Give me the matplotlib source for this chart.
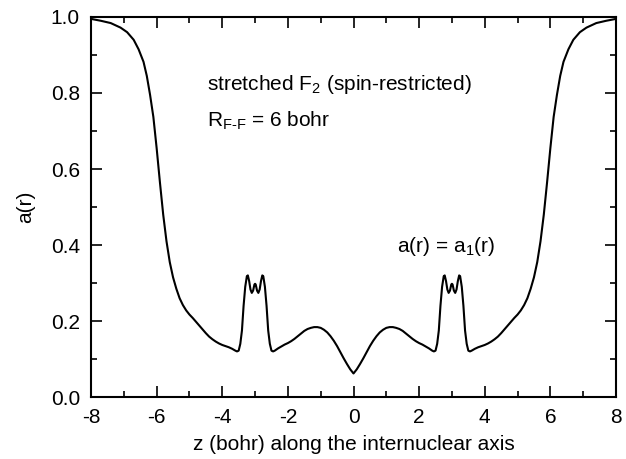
import matplotlib
matplotlib.use("Agg")
import matplotlib.pyplot as plt
from matplotlib.ticker import MultipleLocator

plt.rcParams['font.family'] = ['Liberation Sans', 'DejaVu Sans']
plt.rcParams['mathtext.fontset'] = 'custom'
plt.rcParams['mathtext.rm'] = 'Liberation Sans'
plt.rcParams['mathtext.it'] = 'Liberation Sans:italic'
plt.rcParams['mathtext.default'] = 'regular'

# a(r), left half then right half
z_left = [-8.0, -7.7, -7.4, -7.1, -6.9, -6.7, -6.55, -6.4, -6.3, -6.2, -6.1, -6.0,
          -5.9, -5.8, -5.7, -5.6, -5.5, -5.4, -5.3, -5.2, -5.1, -5.0, -4.9, -4.8,
          -4.7, -4.6, -4.5, -4.4, -4.3, -4.2, -4.1, -4.0, -3.9, -3.8, -3.7, -3.6,
          -3.55, -3.5, -3.45, -3.4, -3.35, -3.3, -3.25, -3.22, -3.18, -3.14, -3.1,
          -3.06, -3.02, -3.0, -2.98, -2.94, -2.9, -2.86, -2.82, -2.78, -2.75, -2.7,
          -2.65, -2.6, -2.55, -2.5, -2.45, -2.4, -2.3, -2.2, -2.1, -2.0, -1.9, -1.8,
          -1.7, -1.6, -1.5, -1.4, -1.3, -1.2, -1.1, -1.0, -0.9, -0.8, -0.7, -0.6,
          -0.5, -0.4, -0.3, -0.2, -0.1, 0.0]
a_left = [0.995, 0.990, 0.984, 0.972, 0.960, 0.940, 0.915, 0.882, 0.845, 0.795, 0.737, 0.655,
          0.565, 0.480, 0.410, 0.355, 0.315, 0.285, 0.260, 0.242, 0.228, 0.217, 0.208, 0.198,
          0.188, 0.178, 0.168, 0.159, 0.152, 0.146, 0.141, 0.137, 0.134, 0.131, 0.127, 0.122,
          0.120, 0.122, 0.140, 0.175, 0.240, 0.290, 0.318, 0.320, 0.305, 0.283, 0.274,
          0.280, 0.296, 0.298, 0.296, 0.280, 0.274, 0.283, 0.305, 0.320, 0.318, 0.290,
          0.240, 0.175, 0.140, 0.122, 0.120, 0.122, 0.128, 0.133, 0.138, 0.142, 0.147, 0.153,
          0.160, 0.167, 0.174, 0.179, 0.182, 0.184, 0.184, 0.182, 0.177, 0.170, 0.160, 0.148,
          0.134, 0.118, 0.102, 0.087, 0.073, 0.062]

z_right = [0.1, 0.2, 0.3, 0.4, 0.5, 0.6, 0.7, 0.8, 0.9, 1.0, 1.1, 1.2, 1.3, 1.4, 1.5,
           1.6, 1.7, 1.8, 1.9, 2.0, 2.1, 2.2, 2.3, 2.4, 2.45, 2.5, 2.55, 2.6, 2.65, 2.7,
           2.75, 2.78, 2.82, 2.86, 2.9, 2.94, 2.98, 3.0, 3.02, 3.06, 3.1, 3.14, 3.18, 3.22,
           3.25, 3.3, 3.35, 3.4, 3.45, 3.5, 3.55, 3.6, 3.7, 3.8, 3.9, 4.0, 4.1, 4.2, 4.3,
           4.4, 4.5, 4.6, 4.7, 4.8, 4.9, 5.0, 5.1, 5.2, 5.3, 5.4, 5.5, 5.6, 5.7, 5.8, 5.9,
           6.0, 6.1, 6.2, 6.3, 6.4, 6.55, 6.7, 6.9, 7.1, 7.4, 7.7, 8.0]
a_right = [0.073, 0.087, 0.102, 0.118, 0.134, 0.148, 0.160, 0.170, 0.177, 0.182, 0.184, 0.184,
           0.182, 0.179, 0.174, 0.167, 0.160, 0.153, 0.147, 0.142, 0.138, 0.133, 0.128, 0.122,
           0.120, 0.122, 0.140, 0.175, 0.240, 0.290, 0.318, 0.320, 0.305, 0.283, 0.274, 0.280,
           0.296, 0.298, 0.296, 0.280, 0.274, 0.283, 0.305, 0.320, 0.318, 0.290, 0.240, 0.175,
           0.140, 0.122, 0.120, 0.122, 0.127, 0.131, 0.134, 0.137, 0.141, 0.146, 0.152, 0.159,
           0.168, 0.178, 0.188, 0.198, 0.208, 0.217, 0.228, 0.242, 0.260, 0.285, 0.315, 0.355,
           0.410, 0.480, 0.565, 0.655, 0.737, 0.795, 0.845, 0.882, 0.915, 0.940, 0.960, 0.972,
           0.984, 0.990, 0.995]

z = z_left + z_right
a = a_left + a_right

fs = 15

fig = plt.figure(figsize=(6.26, 4.59), dpi=100)
ax = fig.add_axes([0.1454, 0.135, 0.8386, 0.828])

ax.plot(z, a, color='black', lw=1.5)

ax.set_xlim(-8, 8)
ax.set_ylim(0, 1)
ax.xaxis.set_major_locator(MultipleLocator(2))
ax.xaxis.set_minor_locator(MultipleLocator(1))
ax.yaxis.set_major_locator(MultipleLocator(0.2))
ax.yaxis.set_minor_locator(MultipleLocator(0.1))
ax.xaxis.set_major_formatter(plt.FuncFormatter(lambda v, p: f"{v:.0f}"))
ax.yaxis.set_major_formatter(plt.FuncFormatter(lambda v, p: f"{v:.1f}"))
ax.tick_params(which='both', direction='in', top=True, right=True,
               labelsize=fs, width=1.2, pad=8)
ax.tick_params(which='major', length=8)
ax.tick_params(which='minor', length=4)
for s in ax.spines.values():
    s.set_linewidth(1.5)

ax.set_xlabel('z (bohr) along the internuclear axis', fontsize=fs, labelpad=6)
ax.set_ylabel('a(r)', fontsize=fs, labelpad=11)

ax.text(-4.47, 0.807, r'stretched F$_2$ (spin-restricted)', fontsize=fs, va='baseline')
ax.text(-4.47, 0.710, r'R$_{\text{F-F}}$ = 6 bohr', fontsize=fs, va='baseline')
ax.text(1.33, 0.381, r'a(r) = a$_1$(r)', fontsize=fs, va='baseline')

fig.savefig('out.png', dpi=100)
